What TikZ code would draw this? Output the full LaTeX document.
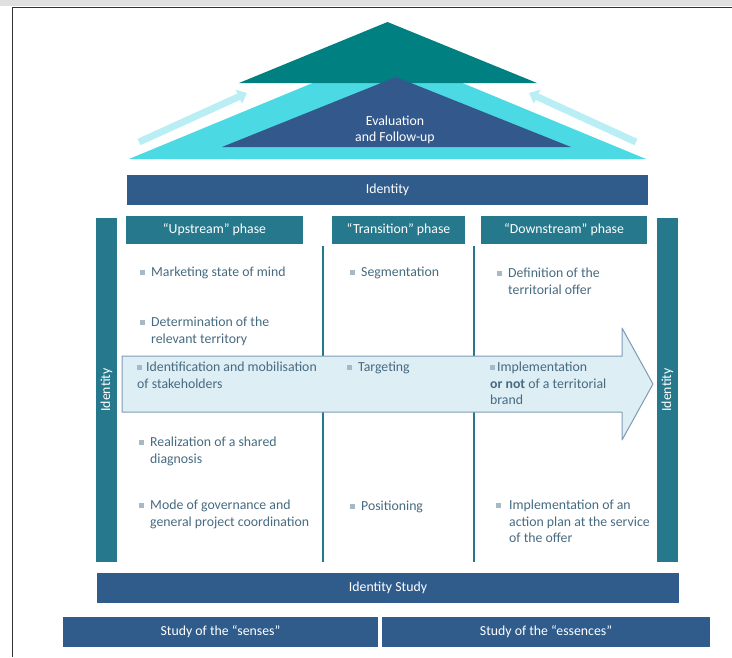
\documentclass[tikz,border=0pt]{standalone}
\usepackage{fontspec}
\setmainfont{Carlito}
\usetikzlibrary{positioning,arrows.meta}
\definecolor{roofteal}{RGB}{0,128,128}
\definecolor{roofcyan}{RGB}{75,218,228}
\definecolor{roofblue}{RGB}{50,88,140}
\definecolor{barblue}{RGB}{48,92,140}
\definecolor{phaseteal}{RGB}{38,120,140}
\definecolor{itemgray}{RGB}{70,106,128}
\definecolor{bulgray}{RGB}{165,185,198}
\definecolor{flowfill}{RGB}{222,238,245}
\definecolor{flowline}{RGB}{125,155,180}
\definecolor{faintcyan}{RGB}{185,238,245}
\newcommand{\bul}{\textcolor{bulgray}{\rule[2pt]{5pt}{5pt}}}
\tikzset{
  bar/.style={fill=barblue, text=white, inner sep=0pt, minimum height=30pt},
  phasebox/.style={fill=phaseteal, text=white, inner sep=0pt, minimum height=28pt},
  sidebar/.style={fill=phaseteal, text=white, inner sep=0pt, minimum width=344pt, minimum height=21pt, rotate=90},
  item/.style={text=itemgray, align=left, anchor=north west, inner sep=0pt}
}
\begin{document}
\begin{tikzpicture}[x=1pt,y=-1pt,font=\fontsize{13.8}{16.5}\selectfont, line join=round, >=Triangle]
  \useasboundingbox (0,0) rectangle (732,657);
  \fill[black!12] (0,0) rectangle (732,6);
  \draw[line width=1pt, black!80] (12,657) -- (12,7.5) -- (732,7.5);
  % roof
  \fill[roofcyan] (129,159) -- (387.5,52) -- (646,159) -- cycle;
  \fill[roofteal] (239,83) -- (387.5,22) -- (537,83) -- cycle;
  \fill[roofblue] (222,147) -- (396,77) -- (571,147) -- cycle;
  \draw[faintcyan, line width=7pt, -{Triangle[length=9pt,width=15pt]}] (139,142) -- (247,93);
  \draw[faintcyan, line width=7pt, -{Triangle[length=9pt,width=15pt]}] (636,142) -- (529,93);
  \node[white, align=center, inner sep=0pt] (eval) at (395,130) {Evaluation\\and Follow-up};
  % bars
  \node[bar, minimum width=521pt] (identity) at (387.5,190) {Identity};
  \node[sidebar] (leftid) at (106.5,390) {Identity};
  \node[sidebar] (rightid) at (667.5,390) {Identity};
  \node[phasebox, minimum width=177pt] (up) at (214.5,230) {“Upstream” phase};
  \node[phasebox, minimum width=133pt] (trans) at (398.5,230) {“Transition” phase};
  \node[phasebox, minimum width=166pt] (down) at (564,230) {“Downstream” phase};
  \node[bar, minimum width=582pt] (study) at (388,588) {Identity Study};
  \node[bar, minimum width=315pt] (senses) at (220.5,632) {Study of the “senses”};
  \node[bar, minimum width=328pt] (essences) at (546,632) {Study of the “essences”};
  \foreach \x in {323,474}
    \draw[phaseteal, line width=2.5pt] (\x,246) -- (\x,562);
  % flow arrow
  \draw[flowline, fill=flowfill, line width=1pt] (122,356) -- (622,356) -- (622,328) -- (653,384)
    -- (622,440) -- (622,412) -- (122,412) -- cycle;
  % upstream
  \node[item] (mind) at (151,267) {\llap{\bul\hspace{6pt}}Marketing state of mind};
  \node[item] (terr) at (151,317) {\llap{\bul\hspace{6pt}}Determination of the\\relevant territory};
  \node[item] (stake) at (137,362) {\bul\hspace{4pt}Identification and mobilisation\\of stakeholders};
  \node[item] (diag) at (150,437) {\llap{\bul\hspace{6pt}}Realization of a shared\\diagnosis};
  \node[item] (gov) at (150,500) {\llap{\bul\hspace{6pt}}Mode of governance and\\general project coordination};
  % transition
  \node[item] (seg) at (361,267) {\llap{\bul\hspace{6pt}}Segmentation};
  \node[item] (targ) at (358,362) {\llap{\bul\hspace{6pt}}Targeting};
  \node[item] (pos) at (361,501) {\llap{\bul\hspace{6pt}}Positioning};
  % downstream
  \node[item] (offer) at (508,268) {\llap{\bul\hspace{6pt}}Definition of the\\territorial offer};
  \node[item] (brand) at (490,362) {\bul\hspace{2pt}Implementation\\\textbf{or not} of a territorial\\brand};
  \node[item] (plan) at (509,500) {\llap{\bul\hspace{8pt}}Implementation of an\\action plan at the service\\of the offer};
\end{tikzpicture}
\end{document}
